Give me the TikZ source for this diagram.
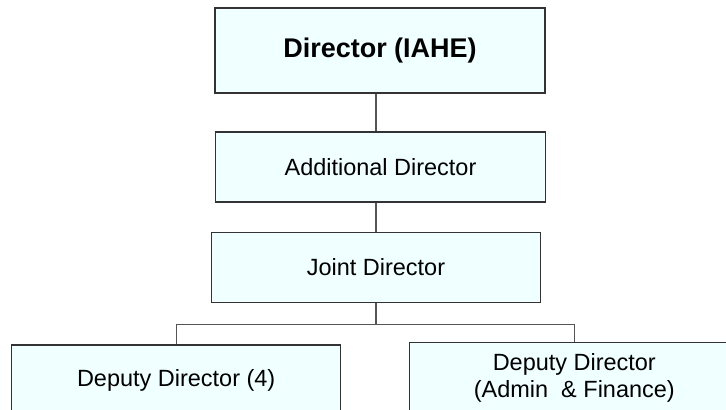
\documentclass[tikz,border=0pt]{standalone}
\usepackage{fontspec}
\setmainfont{Liberation Sans}
\definecolor{fillBox}{HTML}{F0FFFF}
\definecolor{borderBox}{HTML}{333333}
\definecolor{lineLink}{HTML}{555555}

\begin{document}
\begin{tikzpicture}[
    orgbox/.style={rectangle, fill=fillBox, draw=borderBox, line width=0.8pt, inner sep=2pt, align=center, font=\fontsize{16.7}{19.5}\selectfont},
    link/.style={draw=lineLink, line width=0.9pt}
]

    % ==========================================
    % 0. CANVAS
    % ==========================================
    \clip (0,0) rectangle (18.15,10.25);
    \fill[white] (0,0) rectangle (18.15,10.25);

    % ==========================================
    % 1. UPPER LEVELS
    % ==========================================

    \node[
        orgbox,
        minimum width=8.25cm,
        minimum height=2.125cm,
        font=\fontsize{19.2}{22}\selectfont\bfseries
    ] (director) at (9.5, 8.9875) {Director (IAHE)};

    \node[
        orgbox,
        minimum width=8.25cm,
        minimum height=1.75cm
    ] (additional) at (9.5125, 6.075) {Additional Director};

    \node[
        orgbox,
        minimum width=8.235cm,
        minimum height=1.74cm
    ] (joint) at (9.4, 3.5625) {Joint Director};

    % ==========================================
    % 2. DEPUTY LEVEL
    % ==========================================

    \node[
        orgbox,
        minimum width=8.225cm,
        minimum height=1.75cm
    ] (deputy) at (4.405, 0.75) {Deputy Director (4)};

    \node[
        orgbox,
        minimum width=8.25cm,
        minimum height=1.75cm
    ] (deputyAF) at (14.3575, 0.8075) {Deputy Director\\(Admin~\ \& Finance)};

    % ==========================================
    % 3. CONNECTING LINES
    % ==========================================

    \draw[link] (director.south -| joint.north) -- (additional.north -| joint.north);
    \draw[link] (additional.south -| joint.north) -- (joint.north);

    % branch below Joint Director
    \path (joint.south) ++(0,-0.54) coordinate (branch);
    \draw[link] (joint.south) -- (branch);
    \draw[link] (branch) -| (deputy.north);
    \draw[link] (branch) -| (deputyAF.north);

\end{tikzpicture}
\end{document}
